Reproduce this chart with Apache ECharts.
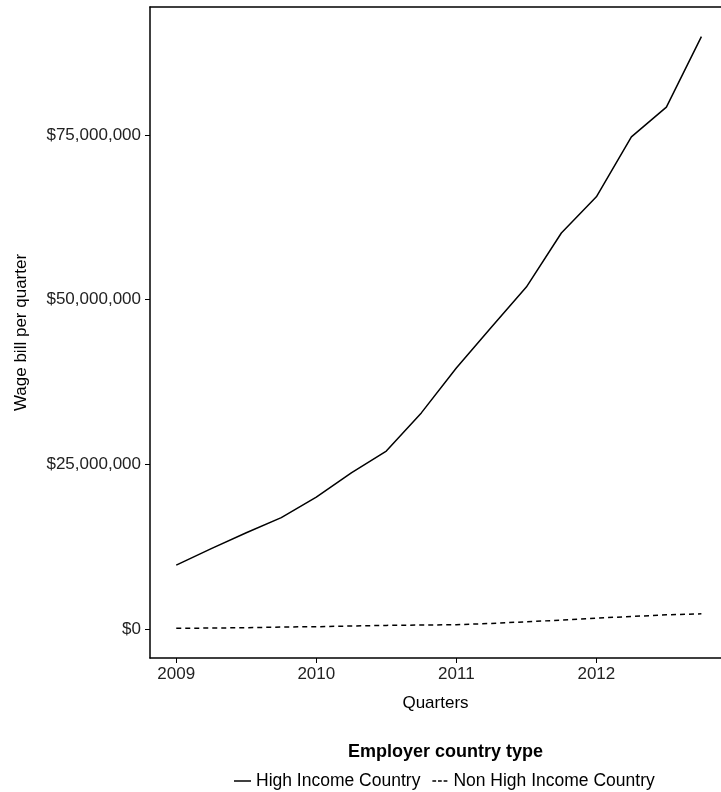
<!DOCTYPE html>
<html>
<head>
<meta charset="utf-8">
<script src="https://cdn.jsdelivr.net/npm/echarts@6/dist/echarts.min.js"></script>
<style>html,body{margin:0;padding:0;background:#fff;}#c{width:721px;height:792px;}</style>
</head>
<body>
<div id="c"></div>
<script>
const quarters = [2009, 2009.25, 2009.5, 2009.75, 2010, 2010.25, 2010.5, 2010.75,
                  2011, 2011.25, 2011.5, 2011.75, 2012, 2012.25, 2012.5, 2012.75];
const highIncome = [9.7e6, 12.2e6, 14.6e6, 16.9e6, 20.0e6, 23.7e6, 27.0e6, 32.8e6,
                    39.6e6, 45.8e6, 51.9e6, 60.1e6, 65.6e6, 74.7e6, 79.2e6, 89.9e6];
const nonHighIncome = [0.1e6, 0.15e6, 0.2e6, 0.3e6, 0.35e6, 0.45e6, 0.55e6, 0.6e6,
                       0.65e6, 0.85e6, 1.1e6, 1.35e6, 1.65e6, 1.9e6, 2.15e6, 2.3e6];
const xTicks = [2009, 2010, 2011, 2012];
const yTicks = [0, 25000000, 50000000, 75000000];
const seriesNames = ['High Income Country', 'Non High Income Country'];

const chart = echarts.init(document.getElementById('c'), null, {renderer: 'canvas'});
const font = 'Liberation Sans, Arial, Helvetica, sans-serif';
const xMin = 2008.8125, xMax = 2012.89;
chart.setOption({
  backgroundColor: '#fff',
  animation: false,
  textStyle: {fontFamily: font},
  title: {
    text: 'Employer country type',
    left: 343,
    top: 738,
    textStyle: {fontFamily: font, fontSize: 18, fontWeight: 'bold', color: '#000'}
  },
  legend: {
    data: [
      {name: seriesNames[0], icon: 'rect'},
      {name: seriesNames[1], icon: 'path://M0,0h5v2h-5z M7.5,0h5v2h-5z M15,0h5v2h-5z'}
    ],
    left: 229,
    top: 767,
    itemWidth: 17,
    itemHeight: 1.5,
    itemGap: 12,
    textStyle: {fontFamily: font, fontSize: 17.5, color: '#000'}
  },
  grid: {
    left: 150, right: 0, top: 7, bottom: 134,
    show: false, containLabel: false
  },
  xAxis: [{
    type: 'value',
    min: xMin,
    max: xMax,
    name: 'Quarters',
    nameLocation: 'middle',
    nameGap: 37,
    nameTextStyle: {fontFamily: font, fontSize: 17, color: '#000'},
    axisLine: {show: true, onZero: false, lineStyle: {color: '#000', width: 1.5}},
    axisTick: {show: true, length: 5, customValues: xTicks, lineStyle: {color: '#000'}},
    axisLabel: {customValues: xTicks, margin: 8, fontSize: 17, color: '#222', fontFamily: font,
                formatter: v => String(v)},
    splitLine: {show: false}
  }, {
    type: 'value',
    position: 'top',
    min: xMin,
    max: xMax,
    axisLine: {show: true, onZero: false, lineStyle: {color: '#000', width: 1.5}},
    axisTick: {show: false},
    axisLabel: {show: false},
    splitLine: {show: false}
  }],
  yAxis: {
    type: 'value',
    min: -4400000,
    max: 94400000,
    name: 'Wage bill per quarter',
    nameLocation: 'middle',
    nameGap: 120,
    nameTextStyle: {fontFamily: font, fontSize: 17, color: '#000'},
    axisLine: {show: true, onZero: false, lineStyle: {color: '#000', width: 1.5}},
    axisTick: {show: true, length: 5, customValues: yTicks, lineStyle: {color: '#000'}},
    axisLabel: {customValues: yTicks, margin: 9, fontSize: 17, color: '#222', fontFamily: font,
                formatter: v => '$' + Number(v).toLocaleString('en-US')},
    splitLine: {show: false}
  },
  series: [
    {
      name: seriesNames[0],
      type: 'line',
      symbol: 'none',
      data: quarters.map((q, i) => [q, highIncome[i]]),
      lineStyle: {color: '#000', width: 1.5, type: 'solid'},
      itemStyle: {color: '#000'}
    },
    {
      name: seriesNames[1],
      type: 'line',
      symbol: 'none',
      data: quarters.map((q, i) => [q, nonHighIncome[i]]),
      lineStyle: {color: '#000', width: 1.5, type: [5, 4]},
      itemStyle: {color: '#000'}
    }
  ]
});
</script>
</body>
</html>
